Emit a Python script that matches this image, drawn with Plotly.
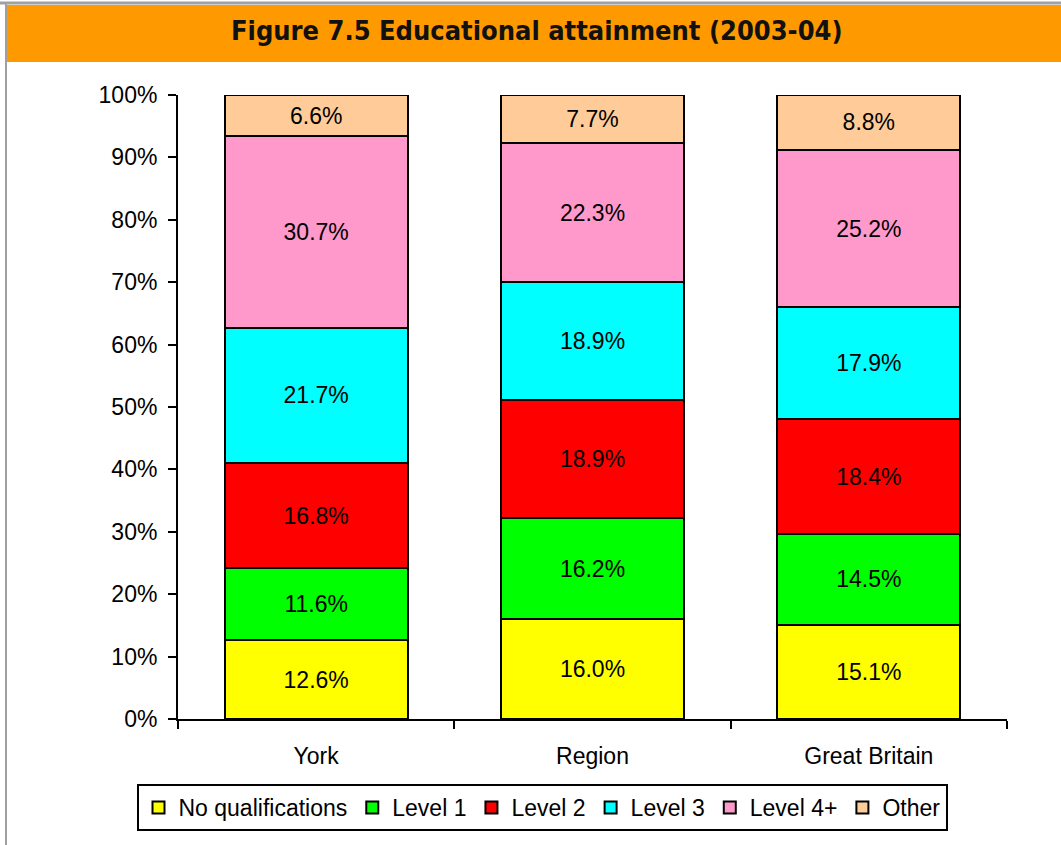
import plotly.graph_objects as go

places = ["York", "Region", "Great Britain"]
series_names = ["No qualifications", "Level 1", "Level 2", "Level 3", "Level 4+", "Other"]
no_qual = [12.6, 16.0, 15.1]
level1 = [11.6, 16.2, 14.5]
level2 = [16.8, 18.9, 18.4]
level3 = [21.7, 18.9, 17.9]
level4 = [30.7, 22.3, 25.2]
other = [6.6, 7.7, 8.8]
y_ticks = [0, 10, 20, 30, 40, 50, 60, 70, 80, 90, 100]

colors = ["#FFFF00", "#00FF00", "#FF0000", "#00FFFF", "#FF99CC", "#FFCC99"]
all_values = [no_qual, level1, level2, level3, level4, other]

fig = go.Figure()
for name, vals, col in zip(series_names, all_values, colors):
    fig.add_trace(go.Bar(
        x=places,
        y=vals,
        name=name,
        marker=dict(color=col, line=dict(color="black", width=2)),
        text=["%.1f%%" % v for v in vals],
        textposition="inside",
        insidetextanchor="middle",
        textangle=0,
        textfont=dict(size=23, color="black", family="Liberation Sans, Arial"),
    ))

# plot area in pixels: x 178..1007, y 95..719
w, h = 829, 624
def px_x(p):
    return (p - 178) / w
def px_y(p):
    return (719 - p) / h

fig.update_layout(
    width=1061, height=845,
    barmode="stack",
    barnorm="percent",
    bargap=0.337,
    plot_bgcolor="white",
    paper_bgcolor="white",
    margin=dict(l=178, r=54, t=95, b=126),
    font=dict(family="Liberation Sans, Arial", size=23, color="black"),
    showlegend=True,
    legend=dict(
        orientation="h",
        x=px_x(542), xanchor="center",
        y=px_y(784), yanchor="top",
        bordercolor="black", borderwidth=2,
        font=dict(size=23),
        itemwidth=30,
        tracegroupgap=0,
        traceorder="normal",
    ),
    uniformtext=dict(minsize=23, mode="show"),
    shapes=[
        dict(type="rect", xref="paper", yref="paper",
             x0=px_x(7), x1=px_x(1065), y0=px_y(62), y1=px_y(5),
             fillcolor="#FF9900", line=dict(width=0), layer="below"),
        dict(type="line", xref="paper", yref="paper",
             x0=px_x(0), x1=px_x(1065), y0=px_y(3), y1=px_y(3),
             line=dict(color="#A0A0A0", width=3)),
        dict(type="line", xref="paper", yref="paper",
             x0=px_x(6), x1=px_x(6), y0=px_y(3), y1=px_y(850),
             line=dict(color="#A0A0A0", width=2)),
    ],
    annotations=[
        dict(text="<b>Figure 7.5 Educational attainment (2003-04)</b>",
             xref="paper", yref="paper", x=px_x(537), y=px_y(31),
             xanchor="center", yanchor="middle", showarrow=False,
             font=dict(family="Liberation Sans Narrow, DejaVu Sans Condensed, Arial Narrow",
                       size=27, color="#111111")),
    ],
)

fig.update_xaxes(
    showline=True, linecolor="black", linewidth=2,
    ticks="outside", tickson="boundaries", ticklen=8, tickwidth=2, tickcolor="black",
    showgrid=False, tickfont=dict(size=23), ticklabelstandoff=15,
)
fig.update_yaxes(
    range=[0, 100], tickvals=y_ticks, ticktext=["%d%%" % t for t in y_ticks],
    showline=True, linecolor="black", linewidth=2,
    ticks="outside", ticklen=8, tickwidth=2, tickcolor="black",
    showgrid=False, zeroline=False, tickfont=dict(size=23), ticklabelstandoff=6,
)

# the page body has a default 8px margin; remove it so the figure sits at 0,0
fig.write_html("out.html", config={"displayModeBar": False},
               post_script="document.body.style.margin='0';")
